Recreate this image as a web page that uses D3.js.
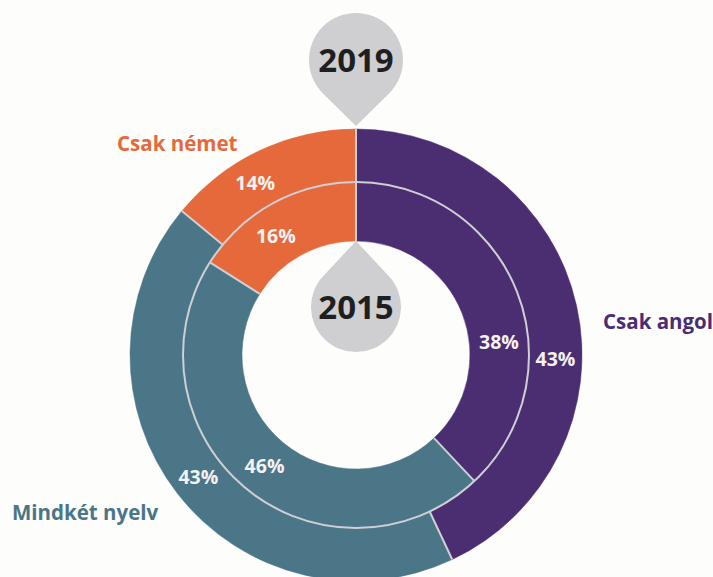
<!DOCTYPE html>
<html>
<head>
<meta charset="utf-8">
<script src="https://cdn.jsdelivr.net/npm/d3@7"></script>
<style>
  body { margin: 0; background: #fdfdfb; }
  svg { display: block; }
</style>
</head>
<body>
<svg id="chart" width="713" height="577"></svg>
<script>
// categories and shares (clockwise from 12 o'clock)
const categories = ["Csak angol", "Mindkét nyelv", "Csak német"];
const values2019 = [43, 43, 14];   // outer ring
const values2015 = [38, 46, 16];   // inner ring
const years = ["2019", "2015"];

const colors = ["#4b2d72", "#4a7688", "#e5693a"];

const svg = d3.select("#chart");
const cx = 356, cy = 355;
const rOuter = 226, rMid = 173, rInner = 114;
const sepColor = "#cfcfd4";

const color = d3.scaleOrdinal().domain(categories).range(colors);

const pie = d3.pie().sort(null).value(d => d.value);

const rings = [
  { year: years[0], values: values2019, r0: rMid, r1: rOuter },
  { year: years[1], values: values2015, r0: rInner, r1: rMid }
];

// nudge label angles a bit where the original does not use the centroid
const labelNudge = { "Csak angol": null, "Mindkét nyelv": 0, "Csak német": -0.09 };

const g = svg.append("g").attr("transform", `translate(${cx},${cy})`);

rings.forEach(ring => {
  const arcs = pie(categories.map((c, i) => ({ cat: c, value: ring.values[i] })));
  const arc = d3.arc().innerRadius(ring.r0).outerRadius(ring.r1);

  g.append("g")
    .selectAll("path")
    .data(arcs)
    .join("path")
    .attr("d", arc)
    .attr("fill", d => color(d.data.cat))
    .attr("stroke", d => color(d.data.cat))
    .attr("stroke-width", 0.5);

  // radial separators between slices
  g.append("g")
    .selectAll("line")
    .data(arcs)
    .join("line")
    .attr("x1", d => Math.sin(d.startAngle) * ring.r0)
    .attr("y1", d => -Math.cos(d.startAngle) * ring.r0)
    .attr("x2", d => Math.sin(d.startAngle) * ring.r1)
    .attr("y2", d => -Math.cos(d.startAngle) * ring.r1)
    .attr("stroke", sepColor)
    .attr("stroke-width", 2);

  ring.arcs = arcs;
});

// divider between the two rings
g.append("circle")
  .attr("r", rMid)
  .attr("fill", "none")
  .attr("stroke", sepColor)
  .attr("stroke-width", 2);

// percentage labels
rings.forEach(ring => {
  const rm = (ring.r0 + ring.r1) / 2;
  g.append("g")
    .selectAll("text")
    .data(ring.arcs)
    .join("text")
    .attr("transform", d => {
      let a = (d.startAngle + d.endAngle) / 2;
      const n = labelNudge[d.data.cat];
      if (n === null) a = Math.PI / 2 - (ring.r1 === rMid ? 0.09 : -0.02);
      else a += n;
      return `translate(${Math.sin(a) * rm},${-Math.cos(a) * rm})`;
    })
    .attr("text-anchor", "middle")
    .attr("dy", "0.36em")
    .attr("fill", "#f4f1f0")
    .attr("font-family", "'Open Sans', sans-serif")
    .attr("font-weight", "700")
    .attr("font-size", "19.5px")
    .text(d => d.value + "%");
});

// teardrop year markers
function drop(r, tip) {
  // circle at origin, tip at (0, tip)
  const d = Math.abs(tip);
  const a = Math.acos(r / d);
  const s = Math.sign(tip);
  const px = r * Math.sin(a), py = s * r * Math.cos(a);
  return `M0,${tip}L${px},${py}A${r},${r} 0 1,${s > 0 ? 0 : 1} ${-px},${py}Z`;
}

const markers = [
  { text: years[0], y: -295, r: 47, tip: 66 },
  { text: years[1], y: -48, r: 45, tip: -66 }
];

markers.forEach(m => {
  const mg = g.append("g").attr("transform", `translate(0,${m.y})`);
  mg.append("path").attr("d", drop(m.r, m.tip)).attr("fill", "#cfcfd1");
  mg.append("text")
    .attr("text-anchor", "middle")
    .attr("dy", "0.36em")
    .attr("fill", "#1f1f1f")
    .attr("font-family", "'Open Sans', sans-serif")
    .attr("font-weight", "700")
    .attr("font-size", "33px")
    .text(m.text);
});

// category labels
const catLabels = [
  { cat: categories[0], x: 603, y: 329 },
  { cat: categories[1], x: 12, y: 520 },
  { cat: categories[2], x: 117, y: 151 }
];

svg.append("g")
  .selectAll("text")
  .data(catLabels)
  .join("text")
  .attr("x", d => d.x)
  .attr("y", d => d.y)
  .attr("fill", d => color(d.cat))
  .attr("font-family", "'Open Sans', sans-serif")
  .attr("font-weight", "700")
  .attr("font-size", "20.5px")
  .text(d => d.cat);
</script>
</body>
</html>
